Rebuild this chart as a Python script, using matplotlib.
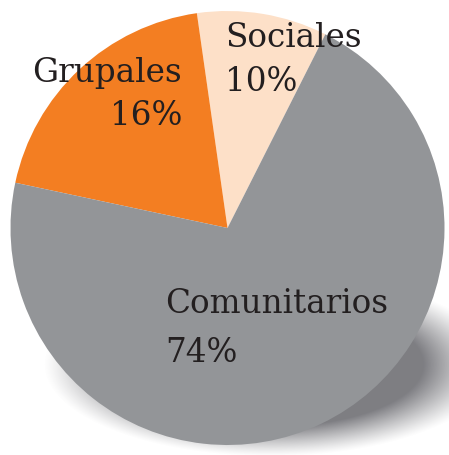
import numpy as np
import matplotlib
matplotlib.use("Agg")
import matplotlib.pyplot as plt

# Data (slice shares as drawn in the picture, labels as printed)
categories = ["Sociales", "Grupales", "Comunitarios"]
shares = [9.7, 19.4, 70.9]
pct_labels = ["10%", "16%", "74%"]
colors = ["#FDE0C8", "#F37E22", "#939598"]

W, H = 449, 456
fig = plt.figure(figsize=(W / 100, H / 100), dpi=100)
ax = fig.add_axes([0, 0, 1, 1])

cx, cy, R = 227.5, H - 229, 217

# Soft shadow (ellipse, blurred) under the pie
yy, xx = np.mgrid[0:H, 0:W]
scx, scy, sa, sb = 270, H - 366, 212, 86
r = np.sqrt(((xx - scx) / sa) ** 2 + ((yy - scy) / sb) ** 2)
dist = (1 - r) * sb
alpha = np.clip((dist + 6) / 30, 0, 1) ** 1.2 * 0.92
img = np.zeros((H, W, 4))
img[..., 0] = 0.45
img[..., 1] = 0.45
img[..., 2] = 0.47
img[..., 3] = alpha
ax.imshow(img, extent=(0, W, 0, H), origin="lower", zorder=0, interpolation="bilinear")

ax.pie(shares, colors=colors, startangle=63.2, counterclock=True,
       center=(cx, cy), radius=R, wedgeprops=dict(linewidth=0))
for p in ax.patches:
    p.set_zorder(2)

ax.set_xlim(0, W)
ax.set_ylim(0, H)
ax.set_aspect("auto")
ax.axis("off")

font = dict(family="DejaVu Serif", fontsize=23.5, color="#231F20", zorder=5)
# Sociales
ax.text(225, H - 47, categories[0], ha="left", va="baseline", **font)
ax.text(225, H - 91, pct_labels[0], ha="left", va="baseline", **font)
# Grupales
ax.text(182, H - 82, categories[1], ha="right", va="baseline", **font)
ax.text(182, H - 125, pct_labels[1], ha="right", va="baseline", **font)
# Comunitarios
ax.text(165, H - 313, categories[2], ha="left", va="baseline", **font)
ax.text(165, H - 362, pct_labels[2], ha="left", va="baseline", **font)

fig.savefig("out.png", dpi=100)
